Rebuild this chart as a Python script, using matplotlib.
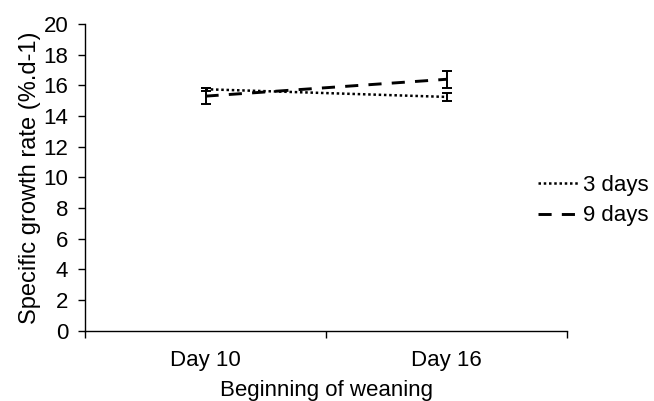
import matplotlib.pyplot as plt
from matplotlib.ticker import FixedLocator

plt.rcParams['font.family'] = ['Liberation Sans', 'DejaVu Sans']

# specific growth rate by start of weaning
categories = ["Day 10", "Day 16"]
sgr_3days = [15.75, 15.25]
err_3days = [0.1, 0.25]
sgr_9days = [15.3, 16.4]
err_9days = [0.5, 0.55]

fig = plt.figure(figsize=(6.54, 4.01), dpi=100)
ax = fig.add_axes([0.130, 0.175, 0.737, 0.765])

x = list(range(len(categories)))
ax.errorbar(x, sgr_3days, yerr=err_3days, color='black', ls=(0, (1, 1.1)), lw=1.8,
            capsize=3.5, elinewidth=1.4, capthick=1.4, label="3 days")
ax.errorbar(x, sgr_9days, yerr=err_9days, color='black', ls=(0, (4.5, 3.5)), lw=2.1,
            capsize=3.5, elinewidth=1.4, capthick=1.4, label="9 days")

ax.set_xlim(-0.5, 1.5)
ax.set_ylim(0, 20)
ax.set_yticks(range(0, 21, 2))
ax.set_xticks(x)
ax.set_xticklabels(categories)
ax.xaxis.set_minor_locator(FixedLocator([-0.5, 0.5, 1.5]))
ax.tick_params(axis='x', which='major', length=0, labelsize=16, pad=14)
ax.tick_params(axis='x', which='minor', length=5, width=1)
ax.tick_params(axis='y', length=5, width=1, labelsize=16, pad=7)

for side in ['top', 'right']:
    ax.spines[side].set_visible(False)
for side in ['left', 'bottom']:
    ax.spines[side].set_linewidth(1)

ax.set_ylabel("Specific growth rate (%.d-1)", fontsize=17, labelpad=2)
ax.set_xlabel("Beginning of weaning", fontsize=16, labelpad=6)

handles, labels = ax.get_legend_handles_labels()
handles = [h[0] for h in handles]
fig.legend(handles, labels, loc='center left', bbox_to_anchor=(0.822, 0.50),
           frameon=False, fontsize=16, handlelength=1.9, handletextpad=0.15,
           labelspacing=0.45, borderaxespad=0.0, borderpad=0.0)

fig.savefig("out.png", dpi=100)
